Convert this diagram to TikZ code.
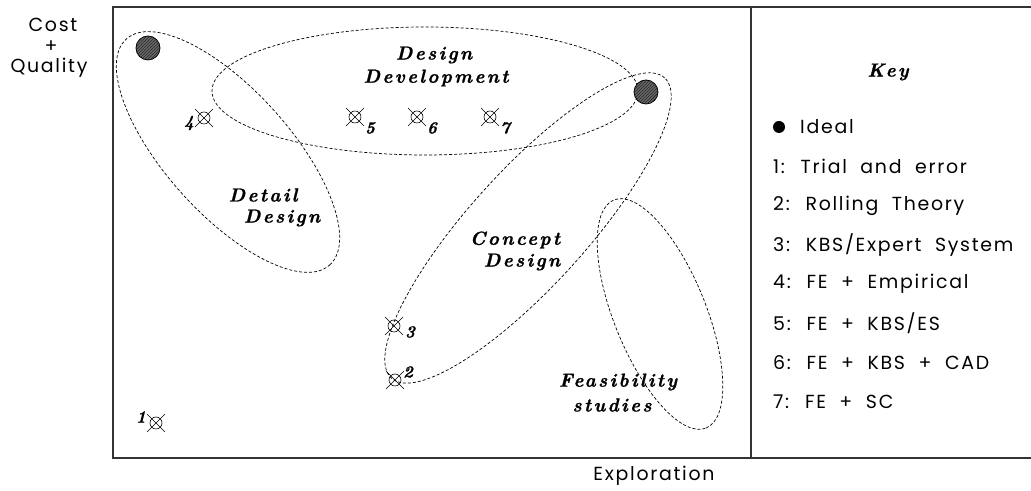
\RequirePackage{fix-cm}
\documentclass[tikz,border=0pt]{standalone}
\usepackage{fontspec}
\usepackage{tikz}
\usetikzlibrary{positioning,patterns}

\newfontfamily\keyfont[WordSpace=2, LetterSpace=9]{Poppins}
\newfontfamily\phasefont[Extension=.otf, LetterSpace=12, FakeBold=1]{lmroman10-bolditalic}
\newfontfamily\numfont[Extension=.otf, FakeBold=1]{lmroman10-bolditalic}

\tikzset{
  frame/.style={draw=black!80, line width=1.3bp},
  zone/.style={draw, dash pattern=on 3bp off 2bp, line width=0.7bp},
  ideal/.style={circle, draw, fill=black!60, postaction={pattern=north east lines, pattern color=black!90},
    minimum size=24bp, inner sep=0pt, line width=0.8bp},
  trialmark/.style={circle, draw, minimum size=12bp, inner sep=0pt, line width=0.6bp},
  phase/.style={font=\fontsize{19}{22}\selectfont\phasefont, inner sep=0pt},
  num/.style={font=\fontsize{17}{19}\selectfont\numfont, inner sep=0pt},
  keytext/.style={font=\fontsize{19}{22}\selectfont\keyfont, anchor=west, inner sep=0pt},
  axislabel/.style={font=\fontsize{19}{22}\selectfont\keyfont, inner sep=0pt}
}

\begin{document}
\begin{tikzpicture}[x=1bp, y=1bp]
  \useasboundingbox (0,0) rectangle (1031,491);

  % Frame
  \draw[frame] (1031,484) -- (113,484) -- (113,33) -- (1031,33);
  \draw[frame] (751,484) -- (751,33);

  % Design phases
  \draw[zone] (425,400) ellipse (213 and 64);
  \draw[zone, rotate around={-48:(228,339)}] (228,339) ellipse (152 and 62);
  \draw[zone, rotate around={47.7:(528,263)}] (528,263) ellipse (203 and 58);
  \draw[zone, rotate around={-68:(660,177)}] (660,177) ellipse (123 and 46);

  \node[phase] (dev1) at (434,436) {Design};
  \node[phase] (dev2) at (436,413) {Development};
  \node[phase] (det1) at (263,296) {Detail};
  \node[phase] (det2) at (282,273) {Design};
  \node[phase] (con1) at (515,251) {Concept};
  \node[phase] (con2) at (522,229) {Design};
  \node[phase] (fea1) at (618,109) {Feasibility};
  \node[phase] (fea2) at (612,86) {studies};

  % Ideal points
  \node[ideal] (best1) at (148,443) {};
  \node[ideal] (best2) at (646,399) {};

  % Methods
  \foreach \i/\x/\y in {1/156/68, 2/395/111, 3/394/165, 4/204/373, 5/355/374, 6/417/374, 7/490/374}
  {
    \node[trialmark] (m\i) at (\x,\y) {};
    \draw[line width=0.6bp] ([shift={(-9,-9)}]m\i.center) -- ([shift={(9,9)}]m\i.center);
    \draw[line width=0.6bp] ([shift={(-9,9)}]m\i.center) -- ([shift={(9,-9)}]m\i.center);
  }
  \foreach \i/\x/\y in {1/141/74, 2/408/119, 3/410/159, 4/189/368, 5/370/363, 6/432/363, 7/505/363}
    \node[num] (n\i) at (\x,\y) {\i};

  % Key
  \node[phase] (key) at (888,419) {Key};
  \fill (779,364) circle (6);
  \node[keytext] (k0) at (800,364) {Ideal};
  \foreach \t [count=\k] in {Trial and error, Rolling Theory, KBS/Expert System, FE + Empirical, FE + KBS/ES, FE + KBS + CAD, FE + SC}
    \node[keytext] (k\k) at (773,364-39.3*\k) {\k: \t};

  % Axes
  \node[axislabel] (cost) at (53,466) {Cost};
  \node[axislabel] (plus) at (51,444) {+};
  \node[axislabel] (qual) at (49,423) {Quality};
  \node[axislabel] (expl) at (654,15) {Exploration};
\end{tikzpicture}
\end{document}
